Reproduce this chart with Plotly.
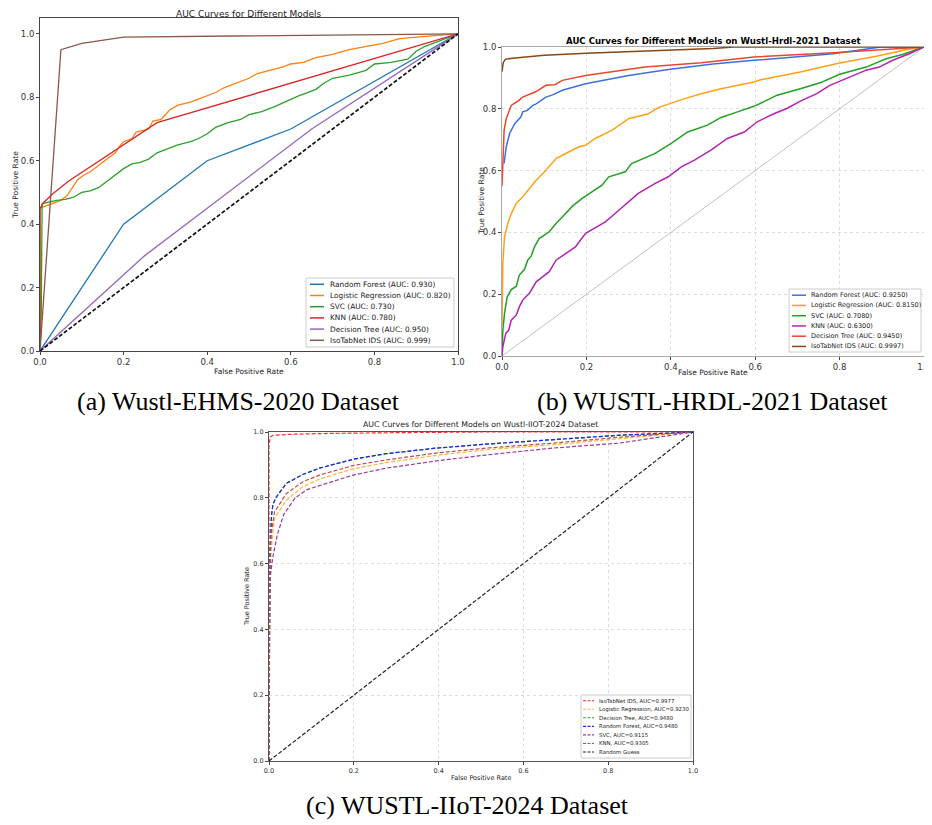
import plotly.graph_objects as go

# ---------------- DATA ----------------
# (a) Wustl-EHMS-2020
a_names = ["Random Forest (AUC: 0.930)", "Logistic Regression (AUC: 0.820)", "SVC (AUC: 0.730)",
           "KNN (AUC: 0.780)", "Decision Tree (AUC: 0.950)", "IsoTabNet IDS (AUC: 0.999)"]
a_rf_fpr = [0, 0.2, 0.4, 0.6, 1.0]
a_rf_tpr = [0, 0.40, 0.60, 0.70, 1.0]
a_lr_fpr = [0, 0.0, 0.01, 0.03, 0.05, 0.065, 0.08, 0.09, 0.105, 0.12, 0.14, 0.16, 0.18, 0.19, 0.2, 0.22,
            0.23, 0.245, 0.26, 0.27, 0.29, 0.3, 0.31, 0.33, 0.36, 0.38, 0.4, 0.42, 0.44, 0.47, 0.5, 0.52,
            0.55, 0.58, 0.6, 0.63, 0.66, 0.7, 0.74, 0.78, 0.82, 0.86, 0.9, 0.95, 1.0]
a_lr_tpr = [0, 0.45, 0.455, 0.465, 0.475, 0.49, 0.52, 0.54, 0.555, 0.565, 0.585, 0.605, 0.625, 0.645, 0.66,
            0.67, 0.69, 0.695, 0.70, 0.725, 0.73, 0.745, 0.76, 0.775, 0.785, 0.795, 0.805, 0.815, 0.83,
            0.845, 0.86, 0.875, 0.885, 0.895, 0.905, 0.91, 0.925, 0.935, 0.95, 0.96, 0.97, 0.985, 0.99,
            0.995, 1.0]
a_svc_fpr = [0, 0.003, 0.005, 0.02, 0.04, 0.06, 0.08, 0.1, 0.12, 0.14, 0.16, 0.18, 0.2, 0.22, 0.24, 0.26,
             0.28, 0.3, 0.33, 0.36, 0.38, 0.4, 0.42, 0.45, 0.48, 0.5, 0.53, 0.56, 0.6, 0.62, 0.64, 0.66,
             0.68, 0.7, 0.74, 0.78, 0.8, 0.84, 0.88, 0.9, 0.92, 0.95, 1.0]
a_svc_tpr = [0, 0.12, 0.465, 0.47, 0.475, 0.478, 0.485, 0.5, 0.505, 0.515, 0.535, 0.555, 0.575, 0.59, 0.595,
             0.605, 0.625, 0.635, 0.65, 0.66, 0.67, 0.685, 0.705, 0.72, 0.73, 0.745, 0.755, 0.77, 0.795,
             0.805, 0.815, 0.825, 0.845, 0.86, 0.87, 0.885, 0.905, 0.91, 0.92, 0.945, 0.96, 0.975, 1.0]
a_knn_fpr = [0, 0.0, 0.01, 0.03, 0.068, 0.28, 1.0]
a_knn_tpr = [0, 0.45, 0.47, 0.495, 0.535, 0.72, 1.0]
a_dt_fpr = [0, 0.25, 0.65, 1.0]
a_dt_tpr = [0, 0.30, 0.70, 1.0]
a_iso_fpr = [0, 0.05, 0.10, 0.20, 1.0]
a_iso_tpr = [0, 0.95, 0.97, 0.99, 1.0]
diag = [0, 1]

# (b) WUSTL-HRDL-2021
b_names = ["Random Forest (AUC: 0.9250)", "Logistic Regression (AUC: 0.8150)", "SVC (AUC: 0.7080)",
           "KNN (AUC: 0.6300)", "Decision Tree (AUC: 0.9450)", "IsoTabNet IDS (AUC: 0.9997)"]
b_rf_fpr = [0.005, 0.01, 0.018, 0.03, 0.045, 0.049, 0.06, 0.073, 0.08, 0.104, 0.12, 0.143, 0.198, 0.25,
            0.3, 0.394, 0.5, 0.597, 0.7, 0.785, 0.898, 1.0]
b_rf_tpr = [0.623, 0.677, 0.72, 0.752, 0.774, 0.79, 0.795, 0.811, 0.815, 0.838, 0.845, 0.86, 0.881, 0.895,
            0.908, 0.927, 0.945, 0.957, 0.968, 0.978, 1.0, 1.0]
b_lr_fpr = [0, 0.001, 0.002, 0.006, 0.014, 0.022, 0.034, 0.049, 0.065, 0.081, 0.104, 0.128, 0.159, 0.182,
            0.198, 0.221, 0.261, 0.3, 0.347, 0.37, 0.433, 0.472, 0.519, 0.597, 0.613, 0.707, 0.8, 0.887,
            0.957, 1.0]
b_lr_tpr = [0.1, 0.2, 0.3, 0.386, 0.43, 0.461, 0.494, 0.515, 0.542, 0.569, 0.601, 0.639, 0.661, 0.677,
            0.682, 0.704, 0.731, 0.768, 0.784, 0.804, 0.833, 0.849, 0.865, 0.887, 0.894, 0.919, 0.948,
            0.97, 0.991, 1.0]
b_svc_fpr = [0, 0.002, 0.006, 0.012, 0.022, 0.034, 0.041, 0.053, 0.061, 0.069, 0.077, 0.088, 0.112, 0.128,
             0.143, 0.167, 0.19, 0.214, 0.237, 0.253, 0.292, 0.307, 0.362, 0.401, 0.44, 0.487, 0.519,
             0.558, 0.597, 0.628, 0.652, 0.707, 0.754, 0.8, 0.863, 0.91, 0.949, 1.0]
b_svc_tpr = [0, 0.084, 0.138, 0.19, 0.215, 0.226, 0.262, 0.28, 0.31, 0.323, 0.353, 0.38, 0.402, 0.429,
             0.45, 0.485, 0.51, 0.531, 0.553, 0.58, 0.596, 0.623, 0.655, 0.688, 0.725, 0.747, 0.772,
             0.79, 0.808, 0.828, 0.844, 0.865, 0.884, 0.912, 0.935, 0.962, 0.976, 1.0]
b_knn_fpr = [0, 0.002, 0.009, 0.016, 0.022, 0.034, 0.041, 0.049, 0.065, 0.081, 0.096, 0.112, 0.128, 0.151,
             0.174, 0.198, 0.218, 0.245, 0.268, 0.292, 0.323, 0.362, 0.394, 0.425, 0.456, 0.495, 0.534,
             0.574, 0.605, 0.644, 0.675, 0.707, 0.746, 0.777, 0.824, 0.863, 0.894, 0.926, 0.965, 1.0]
b_knn_tpr = [0, 0.03, 0.073, 0.084, 0.116, 0.133, 0.159, 0.181, 0.203, 0.24, 0.256, 0.273, 0.31, 0.332,
             0.353, 0.397, 0.413, 0.434, 0.461, 0.488, 0.526, 0.558, 0.58, 0.612, 0.634, 0.666, 0.704,
             0.725, 0.758, 0.784, 0.801, 0.825, 0.849, 0.876, 0.903, 0.925, 0.935, 0.957, 0.978, 1.0]
b_dt_fpr = [0, 0.002, 0.005, 0.01, 0.022, 0.041, 0.049, 0.08, 0.104, 0.125, 0.143, 0.198, 0.253, 0.339,
            0.472, 0.597, 0.785, 0.941, 1.0]
b_dt_tpr = [0.55, 0.65, 0.73, 0.768, 0.811, 0.828, 0.838, 0.855, 0.876, 0.878, 0.892, 0.908, 0.919,
            0.935, 0.949, 0.968, 0.981, 0.995, 1.0]
b_iso_fpr = [0, 0.003, 0.008, 0.02, 0.05, 0.1, 0.2, 0.3, 0.4, 0.5, 0.55, 1.0]
b_iso_tpr = [0.92, 0.95, 0.96, 0.963, 0.967, 0.973, 0.98, 0.985, 0.99, 0.995, 1.0, 1.0]

# (c) WUSTL-IIoT-2024
c_names = ["IsoTabNet IDS, AUC=0.9977", "Logistic Regression, AUC=0.9230", "Decision Tree, AUC=0.9480",
           "Random Forest, AUC=0.9480", "SVC, AUC=0.9115", "KNN, AUC=0.9305", "Random Guess"]
c_iso_fpr = [0, 0.0, 0.003, 0.01, 0.05, 0.15, 0.3, 0.5, 1.0]
c_iso_tpr = [0, 0.96, 0.985, 0.99, 0.993, 0.996, 0.998, 1.0, 1.0]
c_lr_fpr = [0, 0.0005, 0.003, 0.007, 0.013, 0.041, 0.08, 0.119, 0.198, 0.276, 0.394, 0.511, 0.668, 0.825, 1.0]
c_lr_tpr = [0, 0.40, 0.59, 0.67, 0.737, 0.793, 0.834, 0.857, 0.888, 0.907, 0.929, 0.946, 0.961, 0.98, 1.0]
c_dt_fpr = [0, 0.0005, 0.002, 0.004, 0.006, 0.009, 0.016, 0.041, 0.08, 0.119, 0.198, 0.276, 0.394, 0.511, 0.668, 0.825, 1.0]
c_dt_tpr = [0, 0.45, 0.616, 0.686, 0.747, 0.778, 0.80, 0.844, 0.871, 0.89, 0.917, 0.934, 0.951, 0.963, 0.977, 0.99, 1.0]
c_rf_fpr = [0, 0.0005, 0.002, 0.004, 0.006, 0.009, 0.016, 0.041, 0.08, 0.119, 0.198, 0.276, 0.394, 0.511, 0.668, 0.825, 1.0]
c_rf_tpr = [0, 0.45, 0.616, 0.686, 0.747, 0.778, 0.80, 0.844, 0.871, 0.89, 0.917, 0.934, 0.951, 0.963, 0.977, 0.99, 1.0]
c_svc_fpr = [0, 0.0005, 0.003, 0.009, 0.02, 0.035, 0.062, 0.09, 0.119, 0.198, 0.276, 0.394, 0.511, 0.668, 0.825, 1.0]
c_svc_tpr = [0, 0.35, 0.56, 0.62, 0.69, 0.75, 0.80, 0.825, 0.837, 0.869, 0.89, 0.912, 0.93, 0.951, 0.966, 1.0]
c_knn_fpr = [0, 0.0005, 0.002, 0.005, 0.013, 0.041, 0.08, 0.119, 0.198, 0.276, 0.394, 0.511, 0.668, 0.825, 1.0]
c_knn_tpr = [0, 0.42, 0.6, 0.69, 0.757, 0.813, 0.849, 0.869, 0.898, 0.915, 0.936, 0.951, 0.966, 0.984, 1.0]

ticks = [0.0, 0.2, 0.4, 0.6, 0.8, 1.0]
tick_text = ["0.0", "0.2", "0.4", "0.6", "0.8", "1.0"]

# ---------------- LAYOUT HELPERS ----------------
# The page body keeps the browser's default 8px margin, so the figure is sized to
# fill the rest of the 932x825 window; positions below are window pixels.
OFF = 8
W, H = 932 - OFF, 825 - OFF
FONT = "DejaVu Sans"
SERIF = "Liberation Serif"


def px(p):
    return (p - OFF) / W


def py(p):
    return 1 - (p - OFF) / H


fig = go.Figure()


def add(x, y, name, color, xa, ya, width=1.3, dash="solid"):
    fig.add_trace(go.Scatter(x=x, y=y, mode="lines", name=name, xaxis=xa, yaxis=ya,
                             line=dict(color=color, width=width, dash=dash), showlegend=False,
                             hoverinfo="skip"))


# panel a
a_colors = ["#1f77b4", "#ff7f0e", "#2ca02c", "#d62728", "#9467bd", "#8c564b"]
a_series = [(a_rf_fpr, a_rf_tpr), (a_lr_fpr, a_lr_tpr), (a_svc_fpr, a_svc_tpr),
            (a_knn_fpr, a_knn_tpr), (a_dt_fpr, a_dt_tpr), (a_iso_fpr, a_iso_tpr)]
for (x, y), n, c in zip(a_series, a_names, a_colors):
    add(x, y, n, c, "x", "y", width=1.3)
add(diag, diag, "diag", "#111111", "x", "y", width=1.7, dash="4px,2px")

# panel b
b_colors = ["#3f6fdc", "#ffa114", "#23a023", "#b024b0", "#e8472c", "#8b4513"]
b_series = [(b_rf_fpr, b_rf_tpr), (b_lr_fpr, b_lr_tpr), (b_svc_fpr, b_svc_tpr),
            (b_knn_fpr, b_knn_tpr), (b_dt_fpr, b_dt_tpr), (b_iso_fpr, b_iso_tpr)]
add(diag, diag, "diag", "#b0b0b0", "x2", "y2", width=0.8)
for (x, y), n, c in zip(b_series, b_names, b_colors):
    add(x, y, n, c, "x2", "y2", width=1.5)

# panel c
c_colors = ["#ff2a2a", "#ffb23c", "#3a9a3a", "#2323ee", "#9a3a9a", "#b45252", "#222222"]
c_series = [(c_iso_fpr, c_iso_tpr), (c_lr_fpr, c_lr_tpr), (c_dt_fpr, c_dt_tpr), (c_rf_fpr, c_rf_tpr),
            (c_svc_fpr, c_svc_tpr), (c_knn_fpr, c_knn_tpr), (diag, diag)]
for (x, y), n, c in zip(c_series, c_names, c_colors):
    add(x, y, n, c, "x3", "y3", width=1.2, dash="4px,2px")


def axis(domain, rng, anchor, size, linecolor, grid=False):
    return dict(domain=domain, range=rng, anchor=anchor, tickvals=ticks, ticktext=tick_text,
                tickfont=dict(family=FONT, size=size, color="#333333"), ticks="outside", ticklen=3,
                tickcolor="#444444", showline=True, linecolor=linecolor, linewidth=1, mirror=True,
                zeroline=False, showgrid=grid, gridcolor="#dddddd", griddash="dot", gridwidth=1,
                automargin=False, fixedrange=True, ticklabeloverflow="allow")


fig.update_layout(
    width=W, height=H, margin=dict(l=0, r=0, t=0, b=0, autoexpand=False),
    paper_bgcolor="white", plot_bgcolor="white", showlegend=False,
    font=dict(family=FONT, color="#222222"),
    xaxis=axis([px(40), px(458)], [0, 1], "y", 8.5, "#444444"),
    yaxis=axis([py(351), py(18)], [0, 1.05], "x", 8.5, "#444444"),
    xaxis2=axis([px(502), px(924)], [0, 1], "y2", 8.5, "#aaaaaa", grid=True),
    yaxis2=axis([py(356), py(47)], [0, 1], "x2", 8.5, "#aaaaaa", grid=True),
    xaxis3=axis([px(269), px(693)], [0, 1], "y3", 6.5, "#555555", grid=True),
    yaxis3=axis([py(761), py(432)], [0, 1], "x3", 6.5, "#555555", grid=True),
)


def note(text, x, y, size, family=FONT, angle=0, color="#222222", anchor="center"):
    fig.add_annotation(text=text, x=px(x), y=py(y), xref="paper", yref="paper", showarrow=False,
                       xanchor=anchor, yanchor="middle", textangle=angle,
                       font=dict(family=family, size=size, color=color))


def legend_box(names, colors, box, row0, step, sample, text_x, size, width, dash="solid"):
    left, top, right, bottom = box
    fig.add_shape(type="rect", xref="paper", yref="paper", x0=px(left), x1=px(right),
                  y0=py(bottom), y1=py(top), fillcolor="rgba(255,255,255,0.85)",
                  line=dict(color="#cccccc", width=1), layer="above")
    for i, (n, c) in enumerate(zip(names, colors)):
        yy = row0 + i * step
        fig.add_shape(type="line", xref="paper", yref="paper", x0=px(sample[0]), x1=px(sample[1]),
                      y0=py(yy), y1=py(yy), line=dict(color=c, width=width, dash=dash), layer="above")
        note(n, text_x, yy, size, anchor="left")


legend_box(a_names, a_colors, (306, 278, 454, 347), 284.3, 11.2, (310, 324), 328, 7.4, 1.5)
legend_box(b_names, b_colors, (789, 289, 921, 352), 295.2, 10.25, (792, 806), 809, 6.5, 1.5)
legend_box(c_names, c_colors, (581, 695, 691, 758), 700.7, 8.55, (583, 594), 597, 5.4, 1.1,
           dash="3px,1.5px")

# panel a texts
note("AUC Curves for Different Models", 249, 14, 9)
note("False Positive Rate", 249, 371, 7.5)
note("True Positive Rate", 15, 185, 7.5, angle=-90)
# panel b texts
note("<b>AUC Curves for Different Models on Wustl-Hrdl-2021 Dataset</b>", 713, 41, 8.6, color="#000000")
note("False Positive Rate", 713, 372, 7.5)
note("True Positive Rate", 481, 201, 7.5, angle=-90)
# panel c texts
note("AUC Curves for Different Models on Wustl-IIOT-2024 Dataset", 481, 425, 7.8)
note("False Positive Rate", 481, 778, 6.5)
note("True Positive Rate", 247, 596, 6.5, angle=-90)
# captions
note("(a) Wustl-EHMS-2020 Dataset", 238, 401, 26, family=SERIF, color="#000000")
note("(b) WUSTL-HRDL-2021 Dataset", 712, 401, 26, family=SERIF, color="#000000")
note("(c) WUSTL-IIoT-2024 Dataset", 467, 805, 26, family=SERIF, color="#000000")

fig.write_html("out.html")
